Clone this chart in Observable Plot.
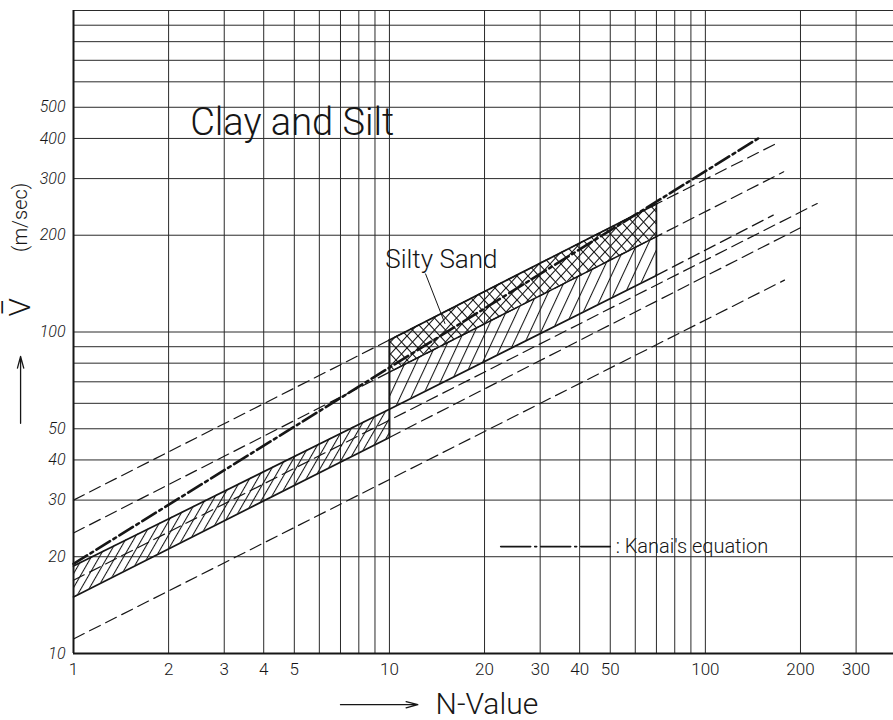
<!DOCTYPE html>
<html><head><meta charset="utf-8">
<script src="https://cdn.jsdelivr.net/npm/d3@7"></script>
<script src="https://cdn.jsdelivr.net/npm/@observablehq/plot@0.6"></script>
<style>body{margin:0;background:#fff} svg{display:block}</style>
</head><body><div id="chart"></div>
<script>
// ---- tick labels and grid values ----
const xTicks = [1, 2, 3, 4, 5, 10, 20, 30, 40, 50, 100, 200, 300];
const yTicks = [10, 20, 30, 40, 50, 100, 200, 300, 400, 500];
const xGrid = [1, 2, 3, 4, 5, 6, 7, 8, 9, 10, 20, 30, 40, 50, 60, 70, 80, 90, 100, 200, 300];
const yGrid = [10, 20, 30, 40, 50, 60, 70, 80, 90, 100, 200, 300, 400, 500, 600, 700, 800, 900, 1000];

// ---- lines (N-value, V m/sec) ----
const kanaiN = [1, 150];           const kanaiV = [19, 405];
const d1N = [1, 10, 70, 167];      const d1V = [30, 94.5, 250, 385];
const d2N = [1, 10, 70, 177];      const d2V = [23.7, 75, 198, 315];
const upperN = [1, 10, 70];        const upperV = [18.7, 57.5, 150];
const upperExtN = [70, 164];       const upperExtV = [150, 231];
const midN = [1, 226];             const midV = [16.9, 251];
const lowerN = [1, 10];            const lowerV = [15, 47];
const lowerExtN = [10, 200];       const lowerExtV = [47, 211];
const d6N = [1, 178];              const d6V = [11.1, 145];

// ---- shaded zones ----
const clayN = [1, 10];   const clayLo = [15, 47];    const clayHi = [18.7, 57.5];
const siltyN = [10, 70]; const siltyTop = [94.5, 250]; const siltyMid = [75, 198]; const siltyBot = [57.5, 150];

const pts = (N, V) => N.map((n, i) => ({N: n, V: V[i]}));
const band = (N, lo, hi) => N.map((n, i) => ({N: n, lo: lo[i], hi: hi[i]}));

const ink = "#161616";
const font = "Roboto, 'Noto Sans', sans-serif";

function defsMark() {
  const defs = d3.create("svg:defs");
  const p1 = defs.append("pattern").attr("id", "hatchClay").attr("patternUnits", "userSpaceOnUse")
    .attr("width", 7).attr("height", 7).attr("patternTransform", "rotate(30)");
  p1.append("line").attr("x1", 0.5).attr("y1", 0).attr("x2", 0.5).attr("y2", 7).attr("stroke", ink).attr("stroke-width", 1.1);
  const p2 = defs.append("pattern").attr("id", "hatchSilty").attr("patternUnits", "userSpaceOnUse")
    .attr("width", 10).attr("height", 10).attr("patternTransform", "rotate(25)");
  p2.append("line").attr("x1", 0.5).attr("y1", 0).attr("x2", 0.5).attr("y2", 10).attr("stroke", ink).attr("stroke-width", 1.1);
  const p3 = defs.append("pattern").attr("id", "crossSilty").attr("patternUnits", "userSpaceOnUse")
    .attr("width", 11).attr("height", 12);
  p3.append("line").attr("x1", 0).attr("y1", 0).attr("x2", 11).attr("y2", 12).attr("stroke", ink).attr("stroke-width", 1.1);
  p3.append("line").attr("x1", 11).attr("y1", 0).attr("x2", 0).attr("y2", 12).attr("stroke", ink).attr("stroke-width", 1.1);
  return defs.node();
}

const dash = "12,6";
const chart = Plot.plot({
  width: 893,
  height: 720,
  marginLeft: 73,
  marginRight: 0,
  marginTop: 10,
  marginBottom: 67,
  style: {fontFamily: font, background: "#fff", color: ink, overflow: "visible"},
  x: {type: "log", domain: [1, 394], axis: null},
  y: {type: "log", domain: [10, 1000], axis: null},
  marks: [
    defsMark,
    Plot.ruleX(xGrid, {stroke: "#2a2a2a", strokeWidth: 1}),
    Plot.ruleY(yGrid, {stroke: "#2a2a2a", strokeWidth: 1}),
    Plot.ruleX([1], {stroke: ink, strokeWidth: 2}),
    Plot.ruleY([10], {stroke: ink, strokeWidth: 2}),
    // shaded zones
    Plot.areaY(band(clayN, clayLo, clayHi), {x: "N", y1: "lo", y2: "hi", fill: "url(#hatchClay)"}),
    Plot.areaY(band(siltyN, siltyBot, siltyMid), {x: "N", y1: "lo", y2: "hi", fill: "url(#hatchSilty)"}),
    Plot.areaY(band(siltyN, siltyMid, siltyTop), {x: "N", y1: "lo", y2: "hi", fill: "url(#crossSilty)"}),
    // dashed lines
    Plot.line(pts(d1N, d1V), {x: "N", y: "V", stroke: ink, strokeWidth: 1.2, strokeDasharray: dash}),
    Plot.line(pts(d2N, d2V), {x: "N", y: "V", stroke: ink, strokeWidth: 1.2, strokeDasharray: dash}),
    Plot.line(pts(midN, midV), {x: "N", y: "V", stroke: ink, strokeWidth: 1.2, strokeDasharray: dash}),
    Plot.line(pts(upperExtN, upperExtV), {x: "N", y: "V", stroke: ink, strokeWidth: 1.2, strokeDasharray: dash}),
    Plot.line(pts(lowerExtN, lowerExtV), {x: "N", y: "V", stroke: ink, strokeWidth: 1.2, strokeDasharray: dash}),
    Plot.line(pts(d6N, d6V), {x: "N", y: "V", stroke: ink, strokeWidth: 1.2, strokeDasharray: dash}),
    // solid boundaries
    Plot.line(pts(upperN, upperV), {x: "N", y: "V", stroke: ink, strokeWidth: 1.7}),
    Plot.line(pts(lowerN, lowerV), {x: "N", y: "V", stroke: ink, strokeWidth: 1.7}),
    Plot.line(pts(siltyN, siltyTop), {x: "N", y: "V", stroke: ink, strokeWidth: 1.7}),
    Plot.line(pts(siltyN, siltyMid), {x: "N", y: "V", stroke: ink, strokeWidth: 1.5}),
    Plot.ruleX([siltyN[0]], {y1: lowerV[1], y2: siltyTop[0], stroke: ink, strokeWidth: 2}),
    Plot.ruleX([siltyN[1]], {y1: siltyBot[1], y2: siltyTop[1], stroke: ink, strokeWidth: 1.6}),
    // Kanai's equation
    Plot.line(pts(kanaiN, kanaiV), {x: "N", y: "V", stroke: ink, strokeWidth: 2.6, strokeDasharray: "16,4,3,4"}),
    // tick labels
    Plot.text(xTicks, {x: d => d, frameAnchor: "bottom", lineAnchor: "top", dy: 9, text: d => String(d), fontSize: 17, fontWeight: 300}),
    Plot.text(yTicks, {y: d => d, frameAnchor: "left", textAnchor: "end", dx: -8, text: d => String(d), fontSize: 16, fontStyle: "italic", fontWeight: 300}),
    // annotations
    Plot.text(["Clay and Silt"], {x: 2.34, y: 410, text: d => d, textAnchor: "start", lineAnchor: "bottom", fontSize: 38, fontWeight: 300}),
    Plot.text(["Silty Sand"], {x: 9.7, y: 158, text: d => d, textAnchor: "start", lineAnchor: "bottom", fontSize: 26, fontWeight: 300}),
    Plot.link([0], {x1: 13.0, y1: 152, x2: 15.0, y2: 106, stroke: ink, strokeWidth: 1}),
    Plot.line([{N: 22.5, V: 21.5}, {N: 50, V: 21.5}], {x: "N", y: "V", stroke: ink, strokeWidth: 1.6, strokeDasharray: "30,4,2,4"}),
    Plot.text([": Kanai's equation"], {x: 52, y: 21.5, text: d => d, textAnchor: "start", fontSize: 20, fontWeight: 300}),
    Plot.text(["V\u0305"], {frameAnchor: "left", dx: -53, dy: -16, rotate: -90, fontSize: 30, fontWeight: 300}),
    Plot.text(["(m/sec)"], {frameAnchor: "left", dx: -53, dy: -80, rotate: -90, fontSize: 20, fontWeight: 300}),
    Plot.arrow([0], {x1: 0.68, y1: 52, x2: 0.68, y2: 84, stroke: ink, strokeWidth: 1.3, headLength: 14, headAngle: 30}),
    Plot.arrow([0], {x1: 7.0, y1: 6.93, x2: 12.3, y2: 6.93, stroke: ink, strokeWidth: 1.3, headLength: 14, headAngle: 30}),
    Plot.text(["N-Value"], {x: 14, y: 6.93, text: d => d, textAnchor: "start", fontSize: 30, fontWeight: 300})
  ]
});
document.getElementById("chart").appendChild(chart);
</script>
</body></html>
